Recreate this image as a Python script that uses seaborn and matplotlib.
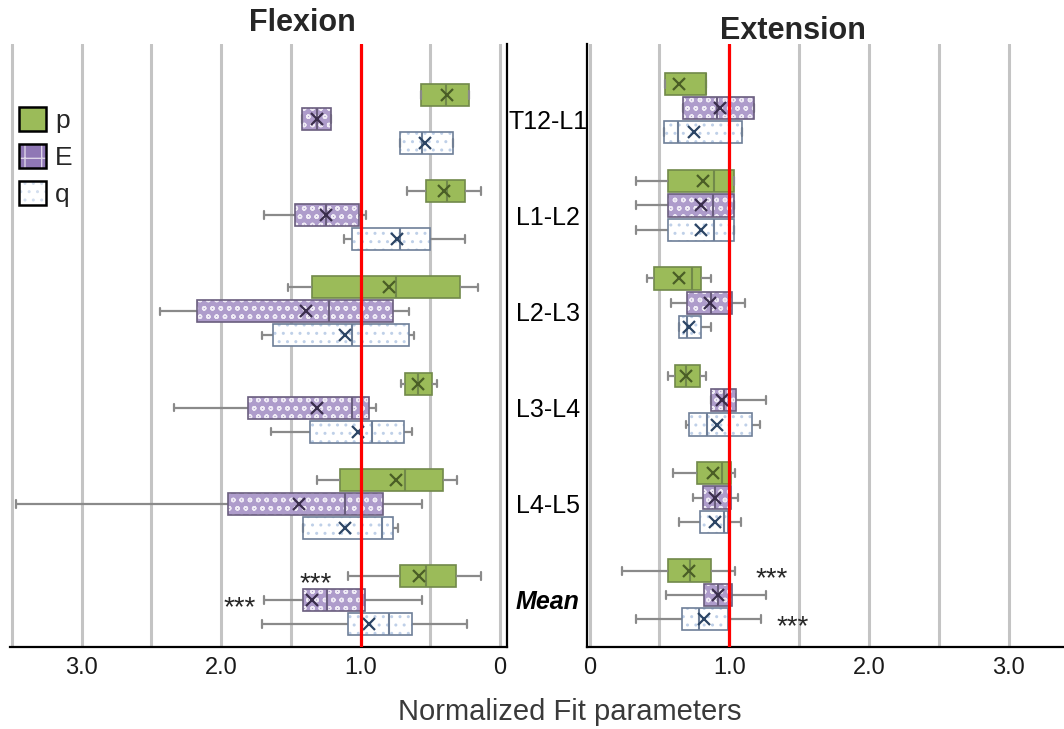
import numpy as np
import pandas as pd
import matplotlib
matplotlib.use("Agg")
import matplotlib.pyplot as plt
import matplotlib.patches as mpatches
from matplotlib.legend_handler import HandlerTuple
import seaborn as sns

segments = ["T12-L1", "L1-L2", "L2-L3", "L3-L4", "L4-L5", "Mean"]
params = ["p", "E", "q"]

# Box summaries per segment: [whisker low, Q1, median, Q3, whisker high]
flexion_p = [[0.22, 0.22, 0.39, 0.57, 0.57],
             [0.14, 0.25, 0.38, 0.53, 0.67],
             [0.16, 0.29, 0.75, 1.35, 1.52],
             [0.45, 0.49, 0.59, 0.68, 0.71],
             [0.31, 0.41, 0.68, 1.15, 1.31],
             [0.14, 0.32, 0.53, 0.72, 1.09]]
flexion_E = [[1.21, 1.21, 1.31, 1.42, 1.42],
             [0.96, 1.01, 1.25, 1.47, 1.69],
             [0.65, 0.77, 1.23, 2.17, 2.44],
             [0.89, 0.94, 1.06, 1.81, 2.34],
             [0.56, 0.84, 1.11, 1.95, 3.47],
             [0.56, 0.97, 1.24, 1.41, 1.69]]
flexion_q = [[0.34, 0.34, 0.56, 0.72, 0.72],
             [0.25, 0.50, 0.72, 1.06, 1.12],
             [0.62, 0.65, 1.06, 1.63, 1.71],
             [0.63, 0.69, 0.92, 1.36, 1.64],
             [0.73, 0.77, 0.85, 1.41, 1.41],
             [0.24, 0.63, 0.80, 1.09, 1.71]]
flexion_p_mean = [0.38, 0.40, 0.80, 0.59, 0.75, 0.58]
flexion_E_mean = [1.31, 1.25, 1.39, 1.31, 1.44, 1.35]
flexion_q_mean = [0.54, 0.74, 1.11, 1.02, 1.11, 0.94]

extension_p = [[0.54, 0.54, 0.83, 0.83, 0.83],
               [0.33, 0.56, 0.89, 1.03, 1.03],
               [0.41, 0.46, 0.73, 0.80, 0.87],
               [0.56, 0.61, 0.69, 0.79, 0.83],
               [0.60, 0.77, 0.95, 1.01, 1.04],
               [0.23, 0.56, 0.72, 0.87, 1.04]]
extension_E = [[0.67, 0.67, 0.91, 1.18, 1.18],
               [0.33, 0.56, 0.88, 1.03, 1.03],
               [0.58, 0.70, 0.87, 1.02, 1.11],
               [0.87, 0.87, 0.96, 1.05, 1.26],
               [0.74, 0.81, 0.90, 1.01, 1.06],
               [0.55, 0.82, 0.92, 1.02, 1.26]]
extension_q = [[0.53, 0.53, 0.63, 1.09, 1.09],
               [0.33, 0.56, 0.89, 1.03, 1.03],
               [0.64, 0.64, 0.70, 0.80, 0.87],
               [0.69, 0.71, 0.84, 1.16, 1.22],
               [0.64, 0.79, 0.96, 0.99, 1.08],
               [0.33, 0.66, 0.78, 0.99, 1.23]]
extension_p_mean = [0.64, 0.81, 0.64, 0.69, 0.88, 0.71]
extension_E_mean = [0.93, 0.80, 0.86, 0.95, 0.90, 0.92]
extension_q_mean = [0.75, 0.80, 0.71, 0.91, 0.90, 0.82]

# Significance marks: (panel, segment, parameter, gap in points)
significance = [("flexion", "Mean", "p", 12),
                ("flexion", "Mean", "E", 6),
                ("extension", "Mean", "p", 15),
                ("extension", "Mean", "q", 11)]

xtick_values = [0, 0.5, 1.0, 1.5, 2.0, 2.5, 3.0, 3.5]
xtick_labels = ["0", "", "1.0", "", "2.0", "", "3.0", ""]

STYLE = {
    "p": dict(face="#9BBB59", hatch=None, hatch_color=None, edge="#71894A", mean="#4A5E26"),
    "E": dict(face="#AE9CCB", hatch="oo", hatch_color="#EFEBF5", edge="#6A5E7E", mean="#3A2E4C"),
    "q": dict(face="#FFFFFF", hatch="..", hatch_color="#BFD0E8", edge="#6E7F98", mean="#2C4565"),
}
WHISKER = "#8A8A8A"
HUE_STEP = 0.25  # box width 0.75 split over three parameters

sns.set_style("white")
plt.rcParams["font.family"] = ["Liberation Sans", "DejaVu Sans"]
plt.rcParams["hatch.linewidth"] = 1.0

W, H = 1064, 729
fig = plt.figure(figsize=(W / 100, H / 100), dpi=100)


def rect(x0, x1, y0, y1):
    return [x0 / W, 1 - y1 / H, (x1 - x0) / W, (y1 - y0) / H]


ax_f = fig.add_axes(rect(10, 507, 44, 647))
ax_e = fig.add_axes(rect(587, 1064, 44, 647))


def draw_panel(ax, boxes, means):
    for name in params:
        st = STYLE[name]
        rows = [(seg, name, v) for seg, stats in zip(segments, boxes[name]) for v in stats]
        df = pd.DataFrame(rows, columns=["segment", "param", "value"])
        n0 = len(ax.patches)
        sns.boxplot(data=df, x="value", y="segment", hue="param",
                    order=segments, hue_order=params,
                    palette={p: STYLE[p]["face"] for p in params},
                    orient="h", width=0.75, gap=0.085, dodge=True,
                    whis=(0, 100), showfliers=False, saturation=1,
                    linewidth=1.2, linecolor=st["edge"],
                    whiskerprops=dict(color=WHISKER, linewidth=1.6),
                    capprops=dict(color=WHISKER, linewidth=1.6),
                    medianprops=dict(color=st["edge"], linewidth=1.5),
                    capwidths=0.08,
                    legend=False, ax=ax)
        if st["hatch"]:
            for patch in list(ax.patches[n0:]):
                patch.set_hatch(st["hatch"])
                patch.set_edgecolor(st["hatch_color"])
                patch.set_linewidth(0)
                ax.add_patch(mpatches.PathPatch(patch.get_path(),
                                                transform=patch.get_transform(),
                                                fill=False, edgecolor=st["edge"],
                                                linewidth=1.2,
                                                zorder=patch.get_zorder()))
    mrows = [(seg, name, m) for name in params for seg, m in zip(segments, means[name])]
    mdf = pd.DataFrame(mrows, columns=["segment", "param", "value"])
    sns.pointplot(data=mdf, x="value", y="segment", hue="param",
                  order=segments, hue_order=params,
                  palette={p: STYLE[p]["mean"] for p in params},
                  orient="h", dodge=2 * HUE_STEP, errorbar=None,
                  linestyle="none", marker="x", markersize=9,
                  markeredgewidth=1.6, legend=False, ax=ax, zorder=6)


panels = {
    "flexion": (ax_f, {"p": flexion_p, "E": flexion_E, "q": flexion_q},
                {"p": flexion_p_mean, "E": flexion_E_mean, "q": flexion_q_mean}),
    "extension": (ax_e, {"p": extension_p, "E": extension_E, "q": extension_q},
                  {"p": extension_p_mean, "E": extension_E_mean, "q": extension_q_mean}),
}

for key, (ax, boxes, means) in panels.items():
    draw_panel(ax, boxes, means)
    ax.axvline(1.0, color="#FF0000", linewidth=2.3, zorder=7)
    ax.set_xticks(xtick_values)
    ax.set_xticklabels(xtick_labels)
    ax.grid(axis="x", color="#C4C4C4", linewidth=2.2)
    ax.grid(axis="y", visible=False)
    ax.set_axisbelow(True)
    ax.set_xlabel("")
    ax.set_ylabel("")
    ax.tick_params(axis="x", length=0, pad=7, labelsize=17, labelcolor="#1A1A1A")
    for side in ["top", "right", "left", "bottom"]:
        ax.spines[side].set_visible(False)
    ax.spines["bottom"].set_visible(True)
    ax.spines["bottom"].set_color("black")
    ax.spines["bottom"].set_linewidth(1.6)

ax_f.set_xlim(3.514, -0.049)
ax_f.set_ylim(5.489, -0.780)
ax_e.set_xlim(-0.018, 3.394)
ax_e.set_ylim(5.534, -0.657)

ax_f.spines["right"].set_visible(True)
ax_f.spines["right"].set_color("black")
ax_f.spines["right"].set_linewidth(1.6)
ax_e.spines["left"].set_visible(True)
ax_e.spines["left"].set_color("black")
ax_e.spines["left"].set_linewidth(1.6)

# Segment names sit between the two panels
ax_f.yaxis.tick_right()
ax_f.tick_params(axis="y", length=0, pad=29.5, labelsize=18, labelcolor="black")
for lab in ax_f.get_yticklabels():
    lab.set_horizontalalignment("center")
    if lab.get_text() == "Mean":
        lab.set_fontweight("bold")
        lab.set_fontstyle("italic")
ax_e.tick_params(axis="y", left=False, labelleft=False, right=False, labelright=False)

# Significance stars beyond the upper whisker
for panel, seg, name, gap in significance:
    ax, boxes, _ = panels[panel]
    i = segments.index(seg)
    hi = boxes[name][i][4]
    y = i + (params.index(name) - 1) * HUE_STEP
    inverted = ax.xaxis_inverted()
    ax.annotate("***", xy=(hi, y), xycoords=ax.transData,
                xytext=(-gap if inverted else gap, -11), textcoords="offset points",
                ha="right" if inverted else "left", va="baseline", fontsize=20)

# Legend
handles = [
    mpatches.Patch(facecolor=STYLE["p"]["face"], edgecolor="black", linewidth=1.8),
    (mpatches.Patch(facecolor="#8F77B5", hatch="+", edgecolor="#DCD3E8", linewidth=0),
     mpatches.Patch(fill=False, edgecolor="black", linewidth=1.8)),
    (mpatches.Patch(facecolor="white", hatch="..", edgecolor="#D3DEEE", linewidth=0),
     mpatches.Patch(fill=False, edgecolor="black", linewidth=1.8)),
]
ax_f.legend(handles, params, loc="upper left", bbox_to_anchor=(0.019, 0.895),
            frameon=False, fontsize=19, handlelength=1.0, handleheight=1.0,
            handletextpad=0.35, labelspacing=0.42, borderpad=0, borderaxespad=0,
            handler_map={tuple: HandlerTuple(ndivide=1, pad=0)})

fig.text(302 / W, 1 - 23 / H, "Flexion", ha="center", va="center",
         fontsize=22, fontweight="bold", color="#262626")
fig.text(793 / W, 1 - 31 / H, "Extension", ha="center", va="center",
         fontsize=22, fontweight="bold", color="#262626")
fig.text(570 / W, 1 - 712 / H, "Normalized Fit parameters", ha="center", va="center",
         fontsize=21, color="#3A3A3A")

fig.savefig("out.png", dpi=100)
